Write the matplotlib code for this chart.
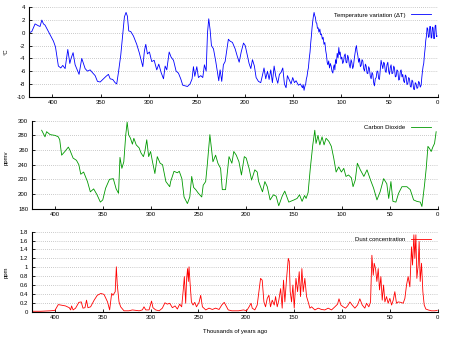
import matplotlib
matplotlib.use("Agg")
import matplotlib.pyplot as plt

# temperature variation (deg C), older part, thousands of years ago
t_age_old = [424.2, 421.4, 418, 414.5, 412.8, 411, 409.3, 407.6, 404.1, 402.4, 398.9, 396.8,
             393.8, 391.3, 389.2, 386.8, 384, 381.9, 380.6, 378.5, 376.4, 372.3, 369.5, 367.7,
             366, 363.6, 360.8, 358, 355.6, 353.2, 350.4, 347, 344.2, 341.8, 340, 337.3, 334.9,
             333.2, 331.4, 329, 326.9, 325.2, 323.5, 322.1, 320.7, 318.6, 315.8, 312.4, 309.6,
             306.1, 304.4, 303, 301.3, 299.2, 296.8, 294.3, 291.6, 289.5, 287.1, 284.6, 282.9,
             281.2, 278.7, 276.7, 274.2, 271.5, 269.1, 266.7, 264.6, 262.2, 259.7, 257, 254.9,
             253.5, 252.1, 250, 248.3, 245.9, 243.8, 242.1, 240.3, 238.9, 237.6, 236.2, 234.8,
             232.7, 230.3, 228.6, 227.2, 225.8, 224.1, 222.4, 220.6,
             217.2, 215.4, 213, 210.2, 208.1, 206, 203.9, 201.5, 199.7, 198, 195.7, 193.9, 192.2,
             190.2, 188.4, 186, 183.6, 181.6, 180.2, 178.4, 176.6, 174.9, 173.2, 171.5, 169.7,
             168, 165.9, 164.2, 162.5, 160.7, 159, 157.3, 155.9, 154.2, 152.1, 150.4, 148.6,
             146.9, 144.5, 142.4]
t_val_old = [0.0, 0.2, 1.4, 1.1, 1.0, 2.0, 1.4, 1.2, 0.2, -0.3, -1.3, -2.2,
             -5.2, -5.5, -5.1, -5.6, -2.6, -4.8, -4.0, -3.1, -5.0, -6.5, -4.0, -4.8,
             -5.6, -6.0, -5.8, -6.3, -6.7, -7.6, -7.7, -7.2, -6.8, -6.5, -7.2, -7.3, -7.8,
             -8.0, -6.2, -3.5, -0.2, 2.5, 3.2, 2.6, 0.3, 0.2, -0.5, -1.8, -3.2,
             -5.3, -2.8, -1.8, -3.3, -3.0, -4.5, -4.3, -5.8, -4.9, -6.2, -7.2, -5.2,
             -5.8, -3.0, -3.8, -4.3, -6.0, -6.3, -7.2, -8.2, -8.3, -8.4, -8.0, -7.2,
             -5.3, -6.8, -5.3, -7.0, -6.7, -7.0, -5.0, -6.0, 0.0, 2.2, 0.5, -2.0,
             -2.5, -4.5, -6.2, -7.5, -5.8, -7.6, -5.0, -4.5,
             -1.0, -1.3, -1.5, -2.5, -3.6, -4.6, -3.0, -1.6, -2.0, -3.2, -4.8, -5.6, -4.2,
             -5.2, -7.0, -7.6, -7.8, -6.5, -5.5, -7.2, -6.0, -7.3, -5.8, -7.8, -5.2,
             -6.8, -7.9, -6.5, -6.2, -5.5, -8.0, -8.6, -6.7, -7.3, -8.0, -7.0, -7.8,
             -7.5, -8.2, -8.0]

# temperature variation, last 140 thousand years (denser sampling)
t_age_new = [140.3, 139.5, 138.6, 137.8, 136.9, 136.2, 135.5, 134.8, 134.1, 133.2,
             132.4, 131.7, 131, 130.3, 129.6, 128.9, 128.2, 127.5, 126.8, 126.1,
             125.4, 124.7, 124, 123.1, 122.2, 121.4, 120.5, 119.6, 118.8, 117.9,
             117, 116.1, 115.3, 114.6, 113.9, 113, 112.2, 111.3, 110.5, 109.6,
             108.7, 108, 107.3, 106.6, 105.9, 105, 104.2, 103.3, 102.5, 101.8,
             101.1, 100.2, 99.4, 98.5, 97.6, 96.8, 95.9, 95, 94.2, 93.3,
             92.5, 91.6, 90.7, 89.8, 89, 88.1, 87.3, 86.4, 85.6, 84.9,
             84.2, 83.5, 82.8, 81.9, 81, 80.1, 79.3, 78.4, 77.6, 76.7,
             75.8, 74.9, 74.1, 73.2, 72.4, 71.5, 70.7, 69.8, 68.9, 68,
             67.2, 66.3, 65.5, 64.6, 63.7, 62.8, 62, 61.1, 60.3, 59.4,
             58.6, 57.7, 56.8, 55.9, 55.1, 54.2, 53.4, 52.5, 51.6, 50.7,
             49.9, 49, 48.2, 47.3, 46.4, 45.5, 44.7, 43.8, 43, 42.1,
             41.2, 40.3, 39.5, 38.6, 37.8, 36.9, 36.1, 35.2, 34.3, 33.4,
             32.6, 31.7, 30.9, 30, 29.1, 28.2, 27.4, 26.5, 25.7, 24.8,
             24, 23.1, 22.2, 21.3, 20.5, 19.6, 18.8, 17.9, 17, 16.3,
             15.6, 14.9, 14.3, 13.6, 12.9, 12.2, 11.5, 10.8, 10.1, 9.4,
             8.7, 8, 7.3, 6.6, 6, 5.3, 4.6, 3.9, 3.2, 2.5,
             1.8, 1.1, 0.4]
t_val_new = [-8.6, -8.1, -9.0, -8.4, -8.0, -7.2, -6.8, -6.0, -5.5, -4.0,
             -3.0, -1.6, -0.5, 0.8, 1.8, 2.6, 3.2, 2.7, 2.4, 1.6,
             1.5, 0.7, 0.8, 0.1, 0.6, -0.3, -0.2, -1.0, -0.7, -1.8,
             -1.5, -2.8, -3.5, -4.6, -5.0, -4.4, -5.5, -4.8, -5.2, -6.0,
             -6.3, -5.4, -5.0, -5.8, -4.2, -4.8, -3.2, -3.9, -2.3, -3.4,
             -3.0, -4.1, -3.8, -4.8, -4.5, -3.6, -3.3, -4.6, -4.7, -3.5,
             -3.9, -5.0, -5.5, -4.2, -4.6, -5.6, -5.2, -4.0, -3.2, -2.4,
             -2.0, -3.0, -3.5, -4.6, -4.0, -5.3, -5.1, -4.2, -4.4, -5.6,
             -6.0, -4.9, -5.2, -6.3, -6.4, -5.3, -5.6, -6.8, -7.2, -6.2,
             -6.5, -7.8, -8.3, -7.2, -7.0, -6.0, -6.0, -7.2, -7.3, -5.6,
             -4.3, -5.0, -5.6, -4.6, -4.8, -6.0, -6.2, -5.0, -4.6, -6.0,
             -6.5, -5.4, -5.0, -6.4, -6.3, -5.2, -5.5, -6.9, -6.8, -5.8,
             -6.0, -7.4, -7.3, -6.0, -5.8, -6.9, -6.5, -7.5, -7.8, -6.6,
             -6.8, -8.1, -8.0, -7.0, -7.2, -8.4, -8.5, -7.4, -7.6, -8.8,
             -8.9, -7.8, -8.0, -8.7, -8.6, -7.6, -7.8, -8.5, -8.2, -7.0,
             -6.0, -5.2, -4.8, -3.5, -2.5, -1.2, -0.5, 0.8, 0.6, -0.7,
             -0.6, 1.0, 1.0, -0.8, -0.8, 0.9, 0.8, -0.9, -0.9, 1.1,
             1.2, -0.6, -0.5]

# carbon dioxide, ppmv
c_age = [413.9, 410.4, 408.7, 405, 400, 396.5, 395, 393, 389.6, 386, 384.4, 381, 377.5,
         375, 373, 370, 366, 363, 359.5, 356, 352.5, 350, 347, 343, 339, 336, 333.5, 332,
         330, 328, 326, 324.5, 323, 321, 319, 317.5, 315, 312, 310, 307.5, 306, 304, 302,
         300, 298, 295.5, 293, 290, 287.5, 284, 280, 279, 275.5, 272, 270, 267.3, 265,
         261.5, 259, 257, 255, 252.8, 250, 246.5, 245, 242.4, 240.7, 238, 234.8, 232,
         229.6, 226.8, 225,
         221.6, 218, 215, 213, 210.4, 207.6, 205, 202, 200, 197, 194.4, 191, 188.5, 187,
         183, 180.5, 178, 175, 171.5, 168.7, 166, 162.4, 159.7, 155.5, 150, 146.8, 144.3,
         141.6, 139, 137.4, 135.3, 133, 130.4, 128.3, 127, 125, 123, 120.7, 118.6, 116.5,
         113.7, 111, 108.5, 106, 103.3, 100.5, 98, 95.7, 93, 90, 88.3, 86, 83.8, 80.7, 77,
         73.7, 70, 66.8, 63.3, 60, 56.3, 53, 51, 48.7, 46.6, 43.5, 40.7, 37.2, 32, 28.5,
         25, 21.6, 18, 16.3, 13.6, 11.8, 10, 8.3, 6.6, 4.9, 3.1, 1.4]
c_val = [287, 278, 285, 281, 280, 278, 274, 253, 258, 264, 260, 249, 246,
         240, 227, 230, 217, 203, 207, 199, 189, 192, 208, 220, 221, 207, 201, 250,
         235, 244, 280, 298, 281, 276, 268, 276, 267, 263, 256, 251, 258, 274, 251,
         258, 244, 228, 251, 242, 240, 217, 210, 217, 231, 229, 231, 221, 196,
         187, 196, 224, 209, 206, 201, 196, 212, 217, 240, 281, 244, 253,
         242, 235, 206,
         206, 251, 242, 258, 253, 244, 226, 251, 249, 235, 219, 233, 230, 217,
         203, 217, 210, 192, 199, 197, 184, 197, 204, 189, 192, 194, 199,
         190, 198, 194, 202, 235, 267, 287, 269, 280, 267, 278, 267, 276,
         272, 265, 249, 230, 237, 230, 235, 224, 226, 222, 210, 219, 242, 233, 224,
         233, 219, 208, 192, 203, 221, 214, 194, 217, 190, 189, 201, 210, 210, 206,
         192, 190, 189, 183, 212, 235, 265, 262, 258, 264, 269, 285]

# dust concentration, ppm
d_age = [424, 415, 405, 400, 396.5, 394, 389, 385, 383.6, 382.6, 381, 378.4, 375, 372.5,
         370.7, 368.6, 367, 365.5, 362.7, 359, 355.7, 352, 348.7, 345, 342.8, 340.7,
         339.3, 337, 335.8, 334.8, 333, 331.3, 327.8, 322.6, 319, 312, 308.6, 306.9, 305,
         301.6, 299, 297.5, 294.7, 291, 287.7, 285, 282.5, 280, 277.2, 274.4, 272, 269.6,
         267.5, 265.7, 264.7, 263.3, 262.3, 261.3, 260.5, 259.8, 258.7, 257.3, 255.6,
         253.8, 252, 249.3, 247.6, 245.8, 242.3, 238.9, 235.4, 232, 228.4, 225.6, 223,
         218.8, 215, 208, 202.8, 199.6, 197, 195, 193.7, 191, 188.5, 186.8, 185, 183.3,
         181.5, 179.8, 178, 176.3, 174.6, 172.8, 170.7, 169.3, 167.6, 165.9, 164, 162.4,
         161, 159.6, 157.8, 156, 155, 154, 152.6, 151.2, 149.8, 148, 146.3, 144.6, 143.2,
         141.8, 140.4, 138.7, 136.9, 135.2, 133.4, 131.7, 128.2, 124.7, 121.3, 117.8,
         114.3, 110.8, 107.3, 104.5, 103, 101, 98.6, 96.2, 94, 91.6, 89.2, 86.4, 83.6,
         81.2, 78.7, 76, 74.2, 71.8, 70, 68.6, 67.2, 66.2, 64.8, 63.4, 62, 60.6, 59.2,
         57.8, 56.4, 55, 53.3, 51.6, 49.8, 48, 46.3, 44.6, 42.9, 41.1, 38.3, 35.9, 34.1,
         32.4, 30.7, 28.9, 27.2, 26.1, 24.7, 23.7, 22.6, 21.6, 20.2, 19.2, 18.1, 16.7,
         15.3, 13.9, 12.2, 9.8, 6.3, 2.8, 0.3]
d_val = [0.01, 0.01, 0.02, 0.03, 0.16, 0.15, 0.13, 0.09, 0.04, 0.13, 0.04, 0.08, 0.21, 0.22,
         0.08, 0.09, 0.26, 0.09, 0.11, 0.26, 0.37, 0.41, 0.39, 0.22, 0.04, 0.41,
         0.37, 0.45, 1.01, 0.6, 0.22, 0.11, 0.02, 0.02, 0.04, 0.02, 0.04, 0.11, 0.04,
         0.04, 0.24, 0.09, 0.04, 0.02, 0.08, 0.2, 0.17, 0.19, 0.09, 0.13, 0.06, 0.17,
         0.11, 0.52, 0.79, 0.19, 0.75, 0.97, 0.68, 1.01, 0.64, 0.22,
         0.15, 0.21, 0.11, 0.21, 0.37, 0.11, 0.04, 0.08, 0.05, 0.08, 0.05, 0.15, 0.21,
         0.04, 0.02, 0.02, 0.04, 0.02, 0.11, 0.19, 0.08, 0.04, 0.15, 0.45, 0.75, 0.71,
         0.22, 0.11, 0.3, 0.37, 0.11, 0.26, 0.15, 0.34, 0.11, 0.26, 0.52, 0.08,
         0.71, 0.22, 0.75, 1.2, 1.13, 0.45, 0.22, 0.6, 0.08, 0.75, 0.45, 0.9, 0.34,
         0.97, 0.45, 0.75, 0.34, 0.22, 0.08, 0.11, 0.04, 0.08, 0.05, 0.04,
         0.08, 0.04, 0.11, 0.17, 0.29, 0.15, 0.11, 0.08, 0.13, 0.22, 0.15, 0.08, 0.15,
         0.29, 0.15, 0.08, 0.19, 0.11, 0.22, 1.27, 0.82, 1.09, 0.97, 0.68, 0.97, 0.49, 0.79,
         0.26, 0.6, 0.22, 0.34, 0.19, 0.3, 0.15, 0.26, 0.45, 0.19, 0.22, 0.21, 0.19, 0.3,
         0.6, 0.79, 0.56, 1.46, 1.05, 1.73, 1.2, 1.73, 0.75, 1.05, 1.58, 0.68, 1.09,
         0.45, 0.15, 0.06, 0.04, 0.02, 0.02, 0.03]

t_ticks = [4, 2, 0, -2, -4, -6, -8, -10]
c_ticks = [180, 200, 220, 240, 260, 280, 300]
d_ticks = [0, 0.2, 0.4, 0.6, 0.8, 1, 1.2, 1.4, 1.6, 1.8]
d_labels = ["0", "0.2", "0.4", "0.6", "0.8", "1", "1.2", "1.4", "1.6", "1.8"]
x_ticks = [400, 350, 300, 250, 200, 150, 100, 50, 0]

plt.rcParams['font.family'] = ['Liberation Sans', 'DejaVu Sans']
fs = 4.3
W, H = 449, 337

fig = plt.figure(figsize=(W / 100, H / 100), dpi=100)


def make_ax(l, t, r, b):
    ax = fig.add_axes([l / W, 1 - b / H, (r - l) / W, (b - t) / H])
    ax.spines['top'].set_visible(False)
    ax.spines['right'].set_visible(False)
    for s in ['left', 'bottom']:
        ax.spines[s].set_linewidth(0.8)
    ax.tick_params(direction='in', length=2.5, width=0.6, labelsize=fs, pad=2.5)
    ax.grid(axis='y', color='#999999', linestyle=(0, (1, 2)), linewidth=0.5)
    ax.set_axisbelow(True)
    ax.set_xlim(424.3, 0)
    ax.set_xticks(x_ticks)
    return ax


a1 = make_ax(29, 7.3, 437.5, 96.7)
a1.plot(t_age_old + t_age_new, t_val_old + t_val_new, color='#0000ff', lw=0.6,
        label='Temperature variation (ΔT)')
a1.set_ylim(-10, 4)
a1.set_yticks(t_ticks)
a1.set_yticklabels([str(v) for v in t_ticks])

a2 = make_ax(31.7, 120.7, 437.5, 208.7)
a2.plot(c_age, c_val, color='#009900', lw=0.6, label='Carbon Dioxide')
a2.set_ylim(180, 300)
a2.set_yticks(c_ticks)

a3 = make_ax(31.7, 231.7, 437.5, 311.7)
a3.plot(d_age, d_val, color='#ff0000', lw=0.6, label='Dust concentration')
a3.set_ylim(0, 1.8)
a3.set_yticks(d_ticks)
a3.set_yticklabels(d_labels)

for ax, yy in [(a1, 0.914), (a2, 0.92), (a3, 0.905)]:
    ax.legend(loc='center right', bbox_to_anchor=(0.983, yy), frameon=False, fontsize=fs,
              markerfirst=False, handlelength=3.3, handletextpad=0.9, borderpad=0,
              borderaxespad=0)

fig.text(6 / W, 1 - 52 / H, '°C', rotation=90, ha='center', va='center', fontsize=fs)
fig.text(6 / W, 1 - 158 / H, 'ppmv', rotation=90, ha='center', va='center', fontsize=fs)
fig.text(6 / W, 1 - 272 / H, 'ppm', rotation=90, ha='center', va='center', fontsize=fs)
fig.text(235 / W, 1 - 331 / H, 'Thousands of years ago', ha='center', va='center', fontsize=fs)

fig.savefig('out.png', dpi=100)
